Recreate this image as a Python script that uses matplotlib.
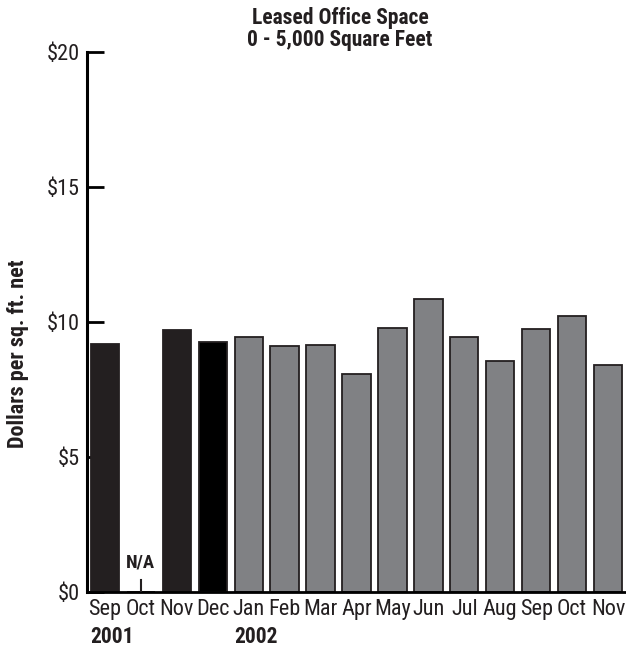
import matplotlib
matplotlib.use("Agg")
import matplotlib.pyplot as plt
import numpy as np

months = ["Sep", "Oct", "Nov", "Dec", "Jan", "Feb", "Mar", "Apr", "May", "Jun",
          "Jul", "Aug", "Sep", "Oct", "Nov"]
values = [9.2, np.nan, 9.7, 9.25, 9.43, 9.12, 9.16, 8.07, 9.79, 10.85,
          9.46, 8.57, 9.74, 10.22, 8.41]
bar_colors = ["#231f20", "#ffffff", "#231f20", "#000000"] + ["#808184"] * 11
yticks = [0, 5, 10, 15, 20]
ytick_labels = ["$0", "$5", "$10", "$15", "$20"]
years = ["2001", "2002"]
year_idx = [0, 4]

FONT = ["Roboto Condensed", "DejaVu Sans"]
plt.rcParams["font.family"] = FONT

fig = plt.figure(figsize=(6.26, 6.5), dpi=100)
ax = fig.add_axes([87 / 626, 58 / 650, 1 - 87 / 626, (592 - 52) / 650])

x = np.arange(len(months))
vals = np.nan_to_num(np.array(values, dtype=float))
ax.bar(x, vals, width=0.79, color=bar_colors, edgecolor="#231f20", linewidth=1.3, zorder=2)

# N/A marker
ax.plot([1, 1], [0, 0.45], color="#231f20", lw=1.5, zorder=3)
ax.text(1, 1.1, "N/A", ha="center", va="center", fontsize=13.5, fontweight="heavy", color="#231f20")

ax.set_xlim(-0.5, 14.5)
ax.set_ylim(0, 20)
ax.set_yticks(yticks)
ax.set_yticklabels(ytick_labels, fontsize=16)
ax.set_xticks(x)
ax.set_xticklabels(months, fontsize=16)
ax.tick_params(axis="y", direction="in", length=12, width=2, pad=5, colors="#000000", labelcolor="#231f20")
ax.tick_params(axis="x", length=0, pad=5, labelcolor="#231f20")
for s in ["top", "right"]:
    ax.spines[s].set_visible(False)
ax.spines["left"].set_linewidth(2.2)
ax.spines["bottom"].set_linewidth(2.0)
ax.spines["left"].set_color("#000000")
ax.spines["bottom"].set_color("#000000")

for yr, i in zip(years, year_idx):
    ax.text(i + 0.2, -(637 - 592) / 27, yr, ha="center", va="center", fontsize=15.5, fontweight="bold", color="#231f20")

fig.text(18 / 626, 1 - 354 / 650, "Dollars per sq. ft. net", rotation=90, ha="center", va="center",
         fontsize=16, fontweight="bold", color="#231f20")
fig.text(340 / 626, 1 - 29 / 650, "Leased Office Space\n0 - 5,000 Square Feet", ha="center", va="center",
         fontsize=15.5, fontweight="bold", color="#231f20", linespacing=1.0)

fig.savefig("out.png", dpi=100)
